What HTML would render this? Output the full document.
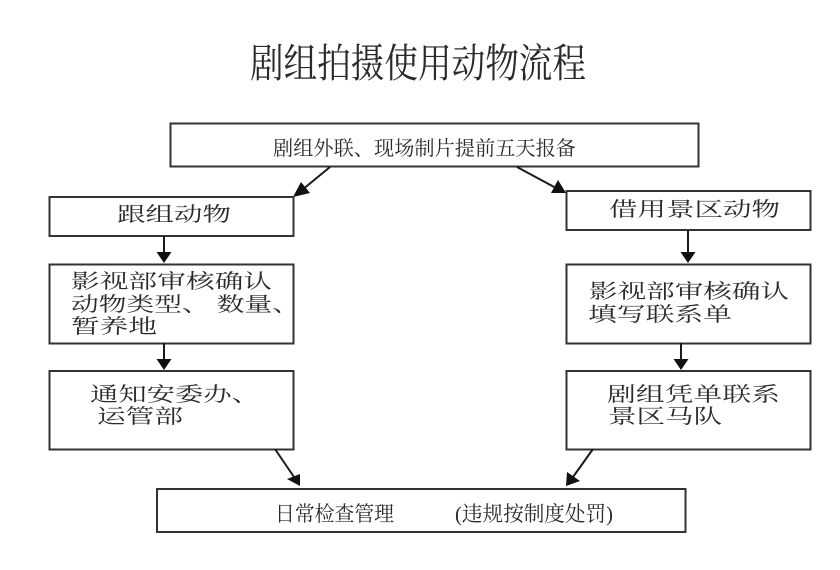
<!DOCTYPE html>
<html lang="zh">
<head>
<meta charset="utf-8">
<style>
html,body{margin:0;padding:0;background:#fff;width:840px;height:570px;overflow:hidden}
svg{display:block}
text{font-family:"Liberation Serif","Noto Serif CJK SC",serif;fill:#2a2a2a;filter:blur(.3px)}
rect{fill:#fff;stroke:#333;stroke-width:2}
line{stroke:#1a1a1a;stroke-width:2}
polygon{fill:#111}
</style>
</head>
<body>
<svg width="840" height="570" viewBox="0 0 840 570" xmlns="http://www.w3.org/2000/svg">
<rect x="170.5" y="123.5" width="528" height="43"/>
<rect x="49.5" y="197" width="244" height="39"/>
<rect x="49.5" y="264.5" width="244" height="79"/>
<rect x="49.5" y="371" width="244" height="78.500"/>
<rect x="566.500" y="191" width="244" height="39"/>
<rect x="566.500" y="264.500" width="244" height="79"/>
<rect x="566.500" y="371" width="244" height="78.500"/>
<rect x="157" y="489" width="528.500" height="43"/>

<line x1="330" y1="167" x2="302" y2="190"/><polygon points="293,197 301,182 310,193"/>
<line x1="517" y1="167" x2="556" y2="188"/><polygon points="566,193 551,193 558,180"/>
<line x1="164" y1="236" x2="164" y2="254"/><polygon points="164,263 156.500,252 171.500,252"/>
<line x1="164" y1="343" x2="164" y2="361"/><polygon points="164,370 156.500,359 171.500,359"/>
<line x1="688" y1="230" x2="688" y2="254"/><polygon points="688,263 680.500,252 695.500,252"/>
<line x1="681" y1="343" x2="681" y2="361"/><polygon points="681,370 673.500,359 688.500,359"/>
<line x1="275" y1="449" x2="294" y2="477"/><polygon points="300,486 287,479 300,474"/>
<line x1="593" y1="449" x2="573" y2="477"/><polygon points="566,486 567,472 580,481"/>

<text x="250" y="77" font-size="40" textLength="336" lengthAdjust="spacingAndGlyphs">剧组拍摄使用动物流程</text>
<text x="273" y="155" font-size="20" textLength="303" lengthAdjust="spacingAndGlyphs">剧组外联、现场制片提前五天报备</text>
<text x="117" y="221" font-size="20" textLength="114" lengthAdjust="spacingAndGlyphs">跟组动物</text>
<text x="71" y="288" font-size="20" textLength="201" lengthAdjust="spacingAndGlyphs">影视部审核确认</text>
<text x="71" y="311" font-size="20" textLength="229" lengthAdjust="spacingAndGlyphs">动物类型、&#160;数量、</text>
<text x="71" y="333" font-size="20" textLength="86" lengthAdjust="spacingAndGlyphs">暂养地</text>
<text x="609" y="216" font-size="20" textLength="171" lengthAdjust="spacingAndGlyphs">借用景区动物</text>
<text x="589" y="298" font-size="20" textLength="200" lengthAdjust="spacingAndGlyphs">影视部审核确认</text>
<text x="588" y="321" font-size="20" textLength="144" lengthAdjust="spacingAndGlyphs">填写联系单</text>
<text x="90" y="401" font-size="20" textLength="170" lengthAdjust="spacingAndGlyphs">通知安委办、</text>
<text x="97" y="423" font-size="20" textLength="86" lengthAdjust="spacingAndGlyphs">运管部</text>
<text x="607" y="401" font-size="20" textLength="173" lengthAdjust="spacingAndGlyphs">剧组凭单联系</text>
<text x="608" y="423" font-size="20" textLength="114" lengthAdjust="spacingAndGlyphs">景区马队</text>
<text x="275" y="521" font-size="21" textLength="119" lengthAdjust="spacingAndGlyphs">日常检查管理</text>
<text x="455" y="521" font-size="21" textLength="158" lengthAdjust="spacingAndGlyphs">(违规按制度处罚)</text>
</svg>
</body>
</html>
